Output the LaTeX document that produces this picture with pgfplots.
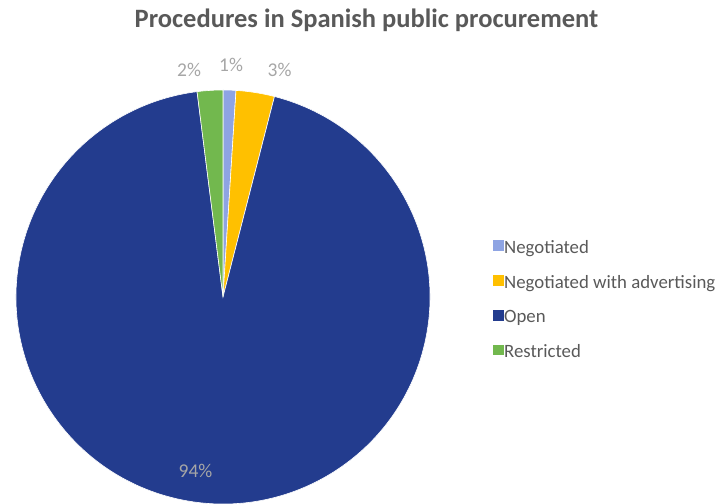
\documentclass[border=0pt]{standalone}
\usepackage{pgfplots}
\pgfplotsset{compat=1.18}
\usepackage{pgfplotstable}
\usepackage{fontspec}
\setmainfont{Carlito}

\definecolor{cNeg}{HTML}{8EA4E3}
\definecolor{cAdv}{HTML}{FFC000}
\definecolor{cOpen}{HTML}{233C8E}
\definecolor{cRes}{HTML}{72B84E}
\definecolor{titlegray}{HTML}{595959}
\definecolor{labgray}{HTML}{A6A6A6}

% share of procedures (%), label angle and label radius (x pie radius)
\pgfplotstableread[col sep=comma]{
name,value,labang,labr
Negotiated,1.0,88,1.12
Negotiated with advertising,3.0,76,1.13
Open,94.0,261,0.85
Restricted,2.0,98.5,1.11
}\piedata

\newcommand\R{207bp}
\def\cumangle{90}
\gdef\slicecmds{}
\newcommand\addslice[2]{%
  \pgfplotstablegetelem{#1}{value}\of\piedata \let\val\pgfplotsretval
  \pgfplotstablegetelem{#1}{labang}\of\piedata \let\la\pgfplotsretval
  \pgfplotstablegetelem{#1}{labr}\of\piedata \let\lr\pgfplotsretval
  \pgfmathsetmacro\sa{\cumangle}%
  \pgfmathsetmacro\sb{\cumangle-3.6*\val}%
  \pgfmathtruncatemacro\pct{round(\val)}%
  \pgfmathsetmacro\lrr{\lr*207}%
  \xdef\slicecmds{\unexpanded\expandafter{\slicecmds}%
    \noexpand\fill[#2, draw=white, line width=0.6pt] (axis cs:0,0) -- ++(\sa:\R)
      arc[start angle=\sa, end angle=\sb, radius=\R] -- cycle;
    \noexpand\path (axis cs:0,0) ++(\la:\lrr bp) node[plabel] {\pct\noexpand\%};}%
  \xdef\cumangle{\sb}}

\addslice{0}{cNeg}
\addslice{1}{cAdv}
\addslice{2}{cOpen}
\addslice{3}{cRes}

\tikzset{plabel/.style={text=labgray, font=\fontsize{19.5bp}{23bp}\selectfont, inner sep=0pt}}

\begin{document}
\begin{tikzpicture}
\useasboundingbox (0,0) rectangle (718bp,504bp);
\begin{axis}[
  at={(16bp,0bp)}, anchor=south west,
  width=414bp, height=414bp, scale only axis,
  xmin=-1, xmax=1, ymin=-1, ymax=1,
  hide axis, clip=false,
  legend style={at={(1.152,0.494)}, anchor=west, draw=none, fill=none,
    font=\fontsize{18.8bp}{22bp}\selectfont, text=titlegray,
    row sep=19.5bp, inner sep=0pt, cells={anchor=west},
    nodes={inner sep=0.5pt}},
  legend image code/.code={\fill[#1] (0bp,-3.5bp) rectangle (10.5bp,7bp);},
]
\slicecmds
\addlegendimage{fill=cNeg, draw=none}
\addlegendentry{Negotiated}
\addlegendimage{fill=cAdv, draw=none}
\addlegendentry{Negotiated with advertising}
\addlegendimage{fill=cOpen, draw=none}
\addlegendentry{Open}
\addlegendimage{fill=cRes, draw=none}
\addlegendentry{Restricted}
\end{axis}
\node[text=titlegray, font=\bfseries\fontsize{26.5bp}{30bp}\selectfont] at (366.5bp,484bp)
  {Procedures in Spanish public procurement};
\end{tikzpicture}
\end{document}
